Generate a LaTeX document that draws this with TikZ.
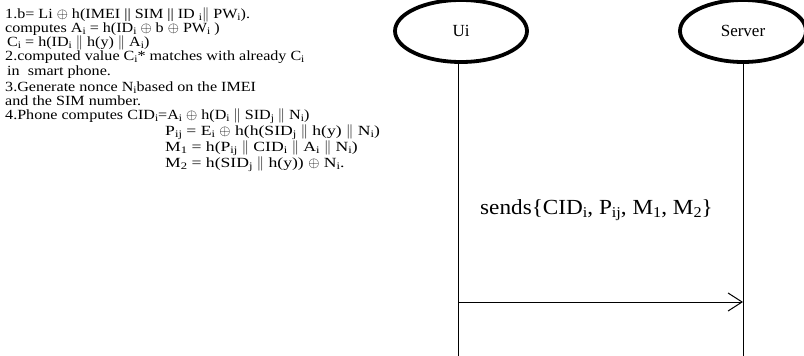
\documentclass[tikz,border=0pt]{standalone}
\usepackage{fontspec}
\setmainfont{Liberation Serif}
\newfontfamily\widefont{Liberation Serif}[FakeStretch=1.15]
\newfontfamily\widerfont{Liberation Serif}[FakeStretch=1.26]
\newfontfamily\labfont{Liberation Serif}[FakeStretch=1.08]
\usetikzlibrary{shapes.geometric,arrows.meta}
\newcommand{\sbs}[1]{\raisebox{-0.4ex}{\fontsize{10}{10}\selectfont #1}}
\newcommand{\sbl}[1]{\raisebox{-0.4ex}{\fontsize{15}{15}\selectfont #1}}
\newcommand{\xo}{$\oplus$}
\newcommand{\dbar}{$\|$}
\begin{document}
\begin{tikzpicture}[x=1pt,y=-1pt,
  txt/.style={anchor=base west,inner sep=0pt,font=\widefont\fontsize{14}{14}\selectfont},
  eqtxt/.style={txt,font=\widerfont\fontsize{14}{14}\selectfont},
  actor/.style={ellipse,draw,line width=3.8pt,minimum width=132pt,minimum height=62pt,font=\fontsize{17}{19}\selectfont},
  life/.style={line width=1pt},
  msg/.style={line width=1pt,-{Straight Barb[length=14pt,width=18pt,line width=1pt]}}]
\useasboundingbox (0,0) rectangle (804,356);
\node[actor] (ui) at (461,31) {Ui};
\node[actor,minimum width=126pt] (srv) at (743,31) {Server};
\coordinate (uibot) at (458,356);
\coordinate (srvbot) at (743,356);
\draw[life] (ui.south -| uibot) -- (uibot);
\draw[life] (srv.south -| srvbot) -- (srvbot);
\coordinate (ua) at (458,302);
\coordinate (sa) at (743,302);
\draw[msg] (ua) -- (sa);
\node[anchor=base west,inner sep=0pt,font=\labfont\fontsize{21.5}{24}\selectfont] (lab) at (480,214) {sends\{CID\sbl{i}, P\sbl{ij}, M\sbl{1}, M\sbl{2}\}};
\node[txt] (l1) at (5,18) {1.b= Li \xo{} h(IMEI || SIM || ID \sbs{i}\dbar{} PW\sbs{i}).};
\node[txt] (l2) at (5,32) {computes A\sbs{i} = h(ID\sbs{i} \xo{} b \xo{} PW\sbs{i} )};
\node[txt] (l3) at (7,46) {C\sbs{i} = h(ID\sbs{i} \dbar{} h(y) \dbar{} A\sbs{i})};
\node[txt] (l4) at (5,60) {2.computed value C\sbs{i}* matches with already C\sbs{i}};
\node[txt] (l5) at (7,75) {in\ \ smart phone.};
\node[txt] (l6) at (5,91) {3.Generate nonce N\sbs{i}based on the IMEI};
\node[txt] (l7) at (5,105) {and the SIM number.};
\node[txt] (l8) at (5,119) {4.Phone computes CID\sbs{i}=A\sbs{i} \xo{} h(D\sbs{i} \dbar{} SID\sbs{j} \dbar{} N\sbs{i})};
\node[eqtxt] (l9) at (165,135) {P\sbs{ij} = E\sbs{i} \xo{} h(h(SID\sbs{j} \dbar{} h(y) \dbar{} N\sbs{i})};
\node[eqtxt] (l10) at (165,151) {M\sbs{1} = h(P\sbs{ij} \dbar{} CID\sbs{i} \dbar{} A\sbs{i} \dbar{} N\sbs{i})};
\node[eqtxt] (l11) at (165,167) {M\sbs{2} = h(SID\sbs{j} \dbar{} h(y)) \xo{} N\sbs{i}.};
\end{tikzpicture}
\end{document}
